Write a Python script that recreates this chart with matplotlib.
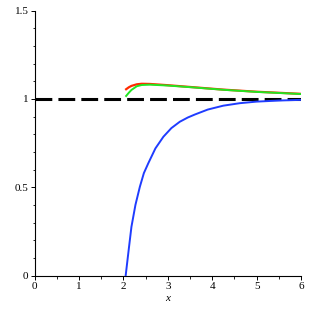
import numpy as np
import matplotlib.pyplot as plt

plt.rcParams['font.family'] = ['Liberation Serif', 'DejaVu Serif']

# ── data ─────────────────────────────────────────────────────────────────────
x_blue = [2.05, 2.12, 2.18, 2.27, 2.37, 2.46, 2.56, 2.72, 2.90, 3.08, 3.27,
          3.45, 3.61, 3.90, 4.25, 4.62, 5.00, 5.50, 6.00]
y_blue = [0.00, 0.15, 0.276, 0.40, 0.503, 0.58, 0.636, 0.72, 0.786, 0.835,
          0.871, 0.895, 0.912, 0.940, 0.962, 0.976, 0.985, 0.991, 0.995]

x_red = [2.06, 2.12, 2.18, 2.30, 2.41, 2.60, 3.00, 3.60, 4.25, 5.00, 6.00]
y_red = [1.055, 1.066, 1.074, 1.083, 1.086, 1.085, 1.078, 1.066, 1.053, 1.041, 1.029]

x_green = [2.06, 2.12, 2.18, 2.30, 2.41, 2.60, 3.00, 3.60, 4.25, 5.00, 6.00]
y_green = [1.017, 1.035, 1.051, 1.072, 1.079, 1.081, 1.076, 1.065, 1.052, 1.040, 1.028]

x_ref = [0, 6]
y_ref = [1, 1]

# ── plot ─────────────────────────────────────────────────────────────────────
fig = plt.figure(figsize=(3.09, 3.09), dpi=100)
ax = fig.add_axes([0.1123, 0.1084, 0.8617, 0.857])

ax.plot(x_ref, y_ref, color='black', lw=2.2, dashes=(5.5, 2.0), zorder=3)
ax.plot(x_blue, y_blue, color='#1f3cff', lw=1.4, zorder=4)
ax.plot(x_red, y_red, color='#ff2a00', lw=1.6, zorder=4)
ax.plot(x_green, y_green, color='#22e622', lw=1.4, zorder=5)

ax.set_xlim(0, 6)
ax.set_ylim(0, 1.5)
for s in ('top', 'right'):
    ax.spines[s].set_visible(False)
for s in ('left', 'bottom'):
    ax.spines[s].set_linewidth(0.8)

ax.set_xticks(range(7))
ax.set_xticks(np.arange(0, 6.01, 0.5), minor=True)
ax.set_yticks([0, 0.5, 1, 1.5])
ax.set_yticklabels(['0', '0.5', '1', '1.5'])
ax.set_yticks(np.arange(0, 1.501, 0.1), minor=True)
ax.tick_params(which='major', length=3, width=0.7, labelsize=8, pad=1.5)
ax.tick_params(which='minor', length=1.8, width=0.6)

ax.set_xlabel('x', fontstyle='italic', fontsize=8, labelpad=2)

fig.savefig('out.png', dpi=100)
